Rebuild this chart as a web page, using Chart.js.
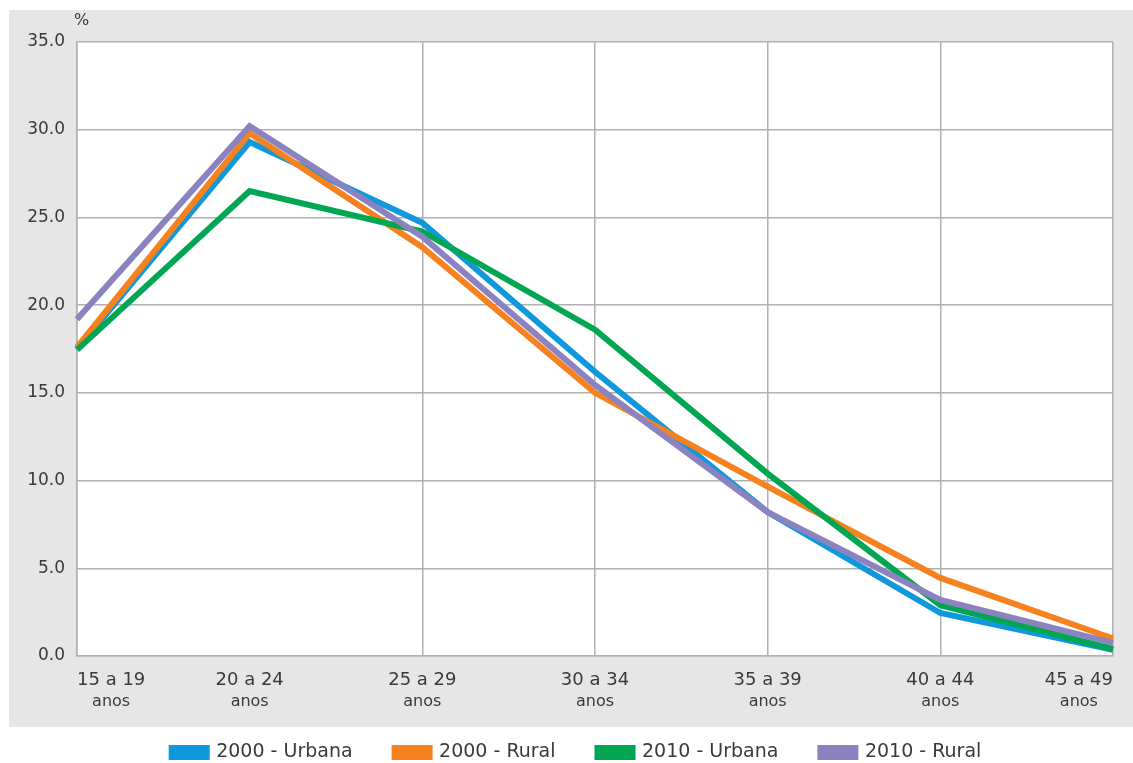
<!DOCTYPE html>
<html>
<head>
<meta charset="utf-8">
<script src="https://cdn.jsdelivr.net/npm/chart.js@4/dist/chart.umd.min.js"></script>
<style>
  html, body { margin: 0; padding: 0; background: #fff; }
  #wrap { width: 1133px; height: 763px; position: relative; }
</style>
</head>
<body>
<div id="wrap"><canvas id="chart"></canvas></div>
<script>
// Age groups (x axis) and the word printed under each group
const ageGroups = ["15 a 19", "20 a 24", "25 a 29", "30 a 34", "35 a 39", "40 a 44", "45 a 49"];
const ageSuffix = "anos";

// Share of births by mother's age group (%)
const urbana2000 = [17.5, 29.3, 24.7, 16.2, 8.2, 2.45, 0.35];
const rural2000  = [17.6, 29.8, 23.3, 15.0, 9.65, 4.45, 1.0];
const urbana2010 = [17.45, 26.5, 24.2, 18.6, 10.4, 2.9, 0.4];
const rural2010  = [19.2, 30.2, 23.9, 15.45, 8.2, 3.2, 0.75];

const seriesNames = ["2000 - Urbana", "2000 - Rural", "2010 - Urbana", "2010 - Rural"];
const seriesColors = ["#0f98db", "#f5821f", "#00a651", "#8b82c0"];

// y axis range and step
const yMin = 0, yMax = 35, yStep = 5;
const unitLabel = "%";

const FONT = "'DejaVu Sans', Verdana, sans-serif";
const TEXT = "#3a3a3a";

// Grey frame behind the plot, white plotting area, unit label and two-line age labels
const framePlugin = {
  id: "frame",
  afterLayout(chart) {
    // nudge the legend row a little to the right
    if (chart.legend) {
      chart.legend.left += 15;
      chart.legend.right += 15;
    }
  },
  beforeDraw(chart) {
    const { ctx, chartArea: a } = chart;
    ctx.save();
    ctx.fillStyle = "#ffffff";
    ctx.fillRect(0, 0, chart.width, chart.height);
    ctx.fillStyle = "#e6e6e6";
    ctx.fillRect(9, 10, chart.width - 9, 717);
    ctx.fillStyle = "#ffffff";
    ctx.fillRect(a.left, a.top, a.right - a.left, a.bottom - a.top);
    ctx.restore();
  },
  afterDraw(chart) {
    const { ctx, chartArea: a } = chart;
    const xs = chart.scales.x;
    ctx.save();
    ctx.fillStyle = TEXT;
    ctx.textBaseline = "middle";
    ctx.textAlign = "left";
    ctx.font = "16px " + FONT;
    ctx.fillText(unitLabel, a.left - 3, 21);

    ctx.textAlign = "center";
    ageGroups.forEach((label, i) => {
      const x = xs.getPixelForValue(i);
      ctx.font = "18px " + FONT;
      const w = ctx.measureText(label).width;
      let left = x - w / 2;
      left = Math.max(a.left, Math.min(left, a.right - w));
      const cx = left + w / 2;
      ctx.fillText(label, cx, a.bottom + 24);
      ctx.font = "16px " + FONT;
      ctx.fillText(ageSuffix, cx, a.bottom + 46);
    });
    ctx.restore();
  }
};

const datasets = [urbana2000, rural2000, urbana2010, rural2010].map((vals, i) => ({
  label: seriesNames[i],
  data: vals,
  borderColor: seriesColors[i],
  backgroundColor: seriesColors[i],
  borderWidth: 6,
  pointRadius: 0,
  pointHoverRadius: 0,
  tension: 0,
  fill: false,
  order: 4 - i
}));

new Chart(document.getElementById("chart"), {
  type: "line",
  data: { labels: ageGroups, datasets },
  plugins: [framePlugin],
  options: {
    responsive: true,
    maintainAspectRatio: false,
    animation: false,
    layout: { padding: { left: 10, right: 20, top: 42, bottom: 0 } },
    plugins: {
      tooltip: { enabled: false },
      legend: {
        position: "bottom",
        align: "center",
        maxHeight: 62,
        labels: {
          boxWidth: 35,
          boxHeight: 9,
          padding: 42,
          color: TEXT,
          font: { family: FONT, size: 19 },
          sort: (a, b) => a.datasetIndex - b.datasetIndex
        }
      }
    },
    scales: {
      x: {
        offset: false,
        grid: {
          color: (c) => (c.index === 1 ? "rgba(0,0,0,0)" : "#b0b0b0"),
          lineWidth: 1.5,
          drawTicks: false
        },
        border: { color: "#b0b0b0", width: 1.5 },
        ticks: { display: false },
        afterFit(scale) { scale.height = 45; }
      },
      y: {
        min: yMin,
        max: yMax,
        grid: { color: "#b0b0b0", lineWidth: 1.5, drawTicks: false },
        border: { color: "#b0b0b0", width: 1.5 },
        ticks: {
          stepSize: yStep,
          padding: 12,
          color: TEXT,
          font: { family: FONT, size: 17 },
          callback: (v) => Number(v).toFixed(1)
        },
        afterFit(scale) { scale.width = 67; }
      }
    }
  }
});
</script>
</body>
</html>
